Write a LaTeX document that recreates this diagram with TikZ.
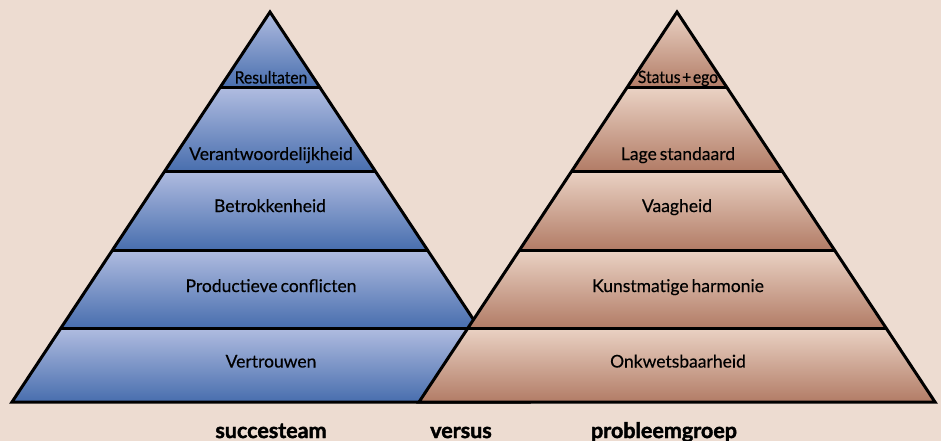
\documentclass[tikz,border=0pt]{standalone}
\usepackage{fontspec}
\setmainfont{Lato}
\newfontfamily\lblfam{Lato}[FakeBold=0.35]
\newfontfamily\topfam{Lato}[FakeBold=0.35,FakeStretch=0.92]
\newfontfamily\footfam{Lato Bold}[FakeBold=1.8]
\definecolor{bgc}{RGB}{237,220,209}
\definecolor{bluetop}{RGB}{176,188,224}
\definecolor{bluebot}{RGB}{72,110,174}
\definecolor{browntop}{RGB}{234,210,196}
\definecolor{brownbot}{RGB}{178,124,102}
\newcommand\lblfont{\lblfam\fontsize{17.5}{20}\selectfont\spaceskip=0.17em\relax}
\newcommand\topfont{\topfam\fontsize{17}{20}\selectfont\spaceskip=0.1em\relax}
\newcommand\footfont{\footfam\fontsize{21.5}{24}\selectfont}
\newcommand\drawpyr[3]{%
  \foreach \ya/\yb in {12/88,88/171,171/250,250/328,328/402}{%
    \pgfmathsetmacro\wa{0.661538*(\ya-12)}%
    \pgfmathsetmacro\wb{0.661538*(\yb-12)}%
    \shade[top color=#2,bottom color=#3] (#1-\wa,\ya) -- (#1+\wa,\ya) -- (#1+\wb,\yb) -- (#1-\wb,\yb) -- cycle;
  }%
  \draw[edge] (#1,12) -- (#1+258,402) -- (#1-258,402) -- cycle;
  \foreach \y in {88,171,250,328}{%
    \pgfmathsetmacro\w{0.661538*(\y-12)}%
    \draw[edge] (#1-\w,\y) -- (#1+\w,\y);
  }%
}
\begin{document}
\begin{tikzpicture}[x=1pt,y=-1pt,
  edge/.style={line width=3pt,line join=miter,draw=black},
  lbl/.style={anchor=base,inner sep=0pt,font=\lblfont,text=black},
  toplbl/.style={lbl,font=\topfont},
  foot/.style={anchor=base,inner sep=0pt,font=\footfont,text=black}]
\fill[bgc] (0,0) rectangle (941,441);
\useasboundingbox (0,0) rectangle (941,441);
\drawpyr{270}{bluetop}{bluebot}
\drawpyr{677}{browntop}{brownbot}
\node[toplbl] (l1) at (271,83.5) {Resultaten};
\node[lbl] (l2) at (271,160) {Verantwoordelijkheid};
\node[lbl] (l3) at (270,212) {Betrokkenheid};
\node[lbl] (l4) at (271,292) {Productieve conflicten};
\node[lbl] (l5) at (271,367.5) {Vertrouwen};
\node[toplbl] (r1) at (678,83) {Status + ego};
\node[lbl] (r2) at (678,160) {Lage standaard};
\node[lbl] (r3) at (677,212) {Vaagheid};
\node[lbl] (r4) at (678,292) {Kunstmatige harmonie};
\node[lbl] (r5) at (678,367.5) {Onkwetsbaarheid};
\node[foot] (f1) at (271,438) {succesteam};
\node[foot] (f2) at (461,438) {versus};
\node[foot] (f3) at (664,438) {probleemgroep};
\end{tikzpicture}
\end{document}
